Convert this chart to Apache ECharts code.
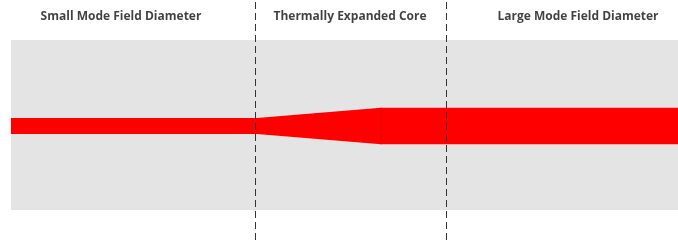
<!DOCTYPE html>
<html>
<head>
<meta charset="utf-8">
<script src="https://cdn.jsdelivr.net/npm/echarts@6/dist/echarts.min.js"></script>
<style>
  html, body { margin: 0; padding: 0; background: #fff; }
  #main { width: 678px; height: 240px; }
</style>
</head>
<body>
<div id="main"></div>
<script>
// section titles and where they sit along the fiber
const sectionLabels = ['Small Mode Field Diameter', 'Thermally Expanded Core', 'Large Mode Field Diameter'];
const labelX = [110, 339, 567];
const labelY = 109;
// section boundaries (dashed)
const boundaryX = [244, 435];
// core profile: position along fiber and half width
const coreX = [0, 246, 370, 667];
const coreHalf = [8, 8, 18.3, 18.3];
// cladding (grey band) extent
const cladTop = 86;
const cladBottom = -84;

var myChart = echarts.init(document.getElementById('main'));

myChart.setOption({
  animation: false,
  grid: { left: 11, right: 0, top: 0, bottom: 0 },
  xAxis: { type: 'value', min: 0, max: 667, show: false },
  yAxis: { type: 'value', min: -114, max: 126, show: false },
  series: [
    {
      // grey cladding
      type: 'custom',
      z: 1,
      data: [[0]],
      renderItem: function (params, api) {
        var p1 = api.coord([0, cladTop]);
        var p2 = api.coord([667, cladBottom]);
        return {
          type: 'rect',
          shape: { x: p1[0], y: p1[1], width: p2[0] - p1[0], height: p2[1] - p1[1] },
          style: { fill: '#e4e4e4' }
        };
      }
    },
    {
      // red core
      type: 'custom',
      z: 2,
      data: [[0]],
      renderItem: function (params, api) {
        var pts = [];
        for (var i = 0; i < coreX.length; i++) pts.push(api.coord([coreX[i], coreHalf[i]]));
        for (var j = coreX.length - 1; j >= 0; j--) pts.push(api.coord([coreX[j], -coreHalf[j]]));
        var e1 = api.coord([coreX[2], coreHalf[2]]);
        var e2 = api.coord([coreX[2], -coreHalf[2]]);
        return {
          type: 'group',
          children: [
            { type: 'polygon', shape: { points: pts }, style: { fill: '#ff0000' } },
            { type: 'line', shape: { x1: e1[0], y1: e1[1], x2: e2[0], y2: e2[1] },
              style: { stroke: '#e80000', lineWidth: 1 } }
          ]
        };
      }
    },
    {
      // section titles + dashed dividers
      type: 'scatter',
      z: 3,
      symbolSize: 0,
      data: labelX.map(function (x, i) { return { value: [x, labelY], name: sectionLabels[i] }; }),
      label: {
        show: true,
        position: 'inside',
        formatter: '{b}',
        color: '#111',
        fontFamily: 'Open Sans',
        fontWeight: 'bold',
        fontSize: 12
      },
      markLine: {
        silent: true,
        symbol: 'none',
        label: { show: false },
        lineStyle: { color: '#333', width: 1, type: [7, 4] },
        data: boundaryX.map(function (x) { return { xAxis: x }; })
      }
    }
  ]
});
</script>
</body>
</html>
